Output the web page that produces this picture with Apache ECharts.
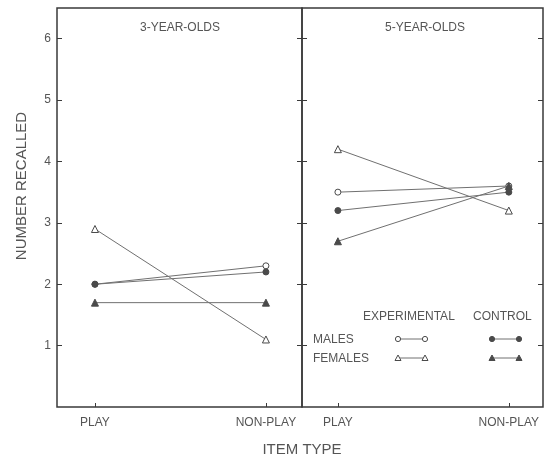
<!DOCTYPE html>
<html>
<head>
<meta charset="utf-8">
<script src="https://cdn.jsdelivr.net/npm/echarts@6/dist/echarts.min.js"></script>
<style>
  html, body { margin: 0; padding: 0; background: #fff; }
  #chart { width: 552px; height: 459px; }
</style>
</head>
<body>
<div id="chart"></div>
<script>
// 数据
const itemTypes = ['PLAY', 'NON-PLAY'];
const panelTitles = ['3-YEAR-OLDS', '5-YEAR-OLDS'];
const yTickValues = [1, 2, 3, 4, 5, 6];

// 3 岁组
const age3MalesExp = [2.0, 2.3];
const age3MalesCtl = [2.0, 2.2];
const age3FemalesExp = [2.9, 1.1];
const age3FemalesCtl = [1.7, 1.7];

// 5 岁组
const age5MalesExp = [3.5, 3.6];
const age5MalesCtl = [3.2, 3.5];
const age5FemalesExp = [4.2, 3.2];
const age5FemalesCtl = [2.7, 3.6];

const ink = '#3a3a3a';
const markColor = '#4a4a4a';
const textColor = '#555';
const lineColor = '#707070';
const font = 'Liberation Sans, Arial, sans-serif';

const chart = echarts.init(document.getElementById('chart'));

// open = 空心符号（实验组），否则实心（对照组）；实心画在上层
function makeSeries(name, values, shape, open, xIdx, yIdx) {
  return {
    name: name,
    type: 'line',
    xAxisIndex: xIdx,
    yAxisIndex: yIdx,
    data: values.map((v, i) => [i, v]),
    symbol: shape,
    symbolSize: shape === 'circle' ? 6 : 7,
    showAllSymbol: true,
    lineStyle: { color: lineColor, width: 1 },
    itemStyle: { color: open ? '#fff' : markColor, borderColor: markColor, borderWidth: 1 },
    emphasis: { disabled: true },
    silent: true,
    z: open ? 2 : 3
  };
}

function xAxisCfg(gridIndex, min, max) {
  return {
    type: 'value',
    gridIndex: gridIndex,
    min: min,
    max: max,
    axisLine: { show: false, onZero: false },
    splitLine: { show: false },
    axisTick: { show: true, inside: true, length: 4, customValues: [0, 1], lineStyle: { color: ink } },
    axisLabel: {
      customValues: [0, 1],
      formatter: v => itemTypes[Math.round(v)],
      color: textColor, fontSize: 12, fontFamily: font, margin: 10
    }
  };
}

function yAxisCfg(gridIndex, position, showLabel) {
  return {
    type: 'value',
    gridIndex: gridIndex,
    position: position,
    min: 0,
    max: 6.5,
    axisLine: { show: false, onZero: false },
    splitLine: { show: false },
    axisTick: { show: true, inside: true, length: 5, customValues: yTickValues, lineStyle: { color: ink } },
    axisLabel: {
      show: showLabel,
      customValues: yTickValues,
      color: textColor, fontSize: 12, fontFamily: font, margin: 6
    }
  };
}

// 图例小样（手绘）
function legendSample(x1, x2, y, kind) {
  const els = [{
    type: 'line',
    shape: { x1: x1, y1: y, x2: x2, y2: y },
    style: { stroke: lineColor, lineWidth: 1 }
  }];
  [x1, x2].forEach(x => {
    if (kind === 'openCircle' || kind === 'filledCircle') {
      els.push({
        type: 'circle',
        shape: { cx: x, cy: y, r: 2.6 },
        style: { fill: kind === 'openCircle' ? '#fff' : markColor, stroke: markColor, lineWidth: 1 }
      });
    } else {
      els.push({
        type: 'polygon',
        shape: { points: [[x, y - 3], [x - 3, y + 2.5], [x + 3, y + 2.5]] },
        style: { fill: kind === 'openTriangle' ? '#fff' : markColor, stroke: markColor, lineWidth: 1 }
      });
    }
  });
  return els;
}

function label(text, x, y, size, align, rotation) {
  return {
    type: 'text',
    x: x, y: y,
    rotation: rotation || 0,
    style: {
      text: text, fill: textColor, fontSize: size, fontFamily: font,
      align: align || 'center', verticalAlign: 'middle'
    }
  };
}

const option = {
  backgroundColor: '#fff',
  animation: false,
  grid: [
    { left: 57, right: 250, top: 8, bottom: 52, show: true, borderColor: ink, borderWidth: 1.5, backgroundColor: 'transparent' },
    { left: 302, right: 9, top: 8, bottom: 52, show: true, borderColor: ink, borderWidth: 1.5, backgroundColor: 'transparent' }
  ],
  xAxis: [
    xAxisCfg(0, -0.222, 1.211),
    xAxisCfg(1, -0.21, 1.2)
  ],
  yAxis: [
    yAxisCfg(0, 'left', true),
    yAxisCfg(0, 'right', false),
    yAxisCfg(1, 'left', false),
    yAxisCfg(1, 'right', false)
  ],
  series: [
    makeSeries('MALES EXPERIMENTAL', age3MalesExp, 'circle', true, 0, 0),
    makeSeries('MALES CONTROL', age3MalesCtl, 'circle', false, 0, 0),
    makeSeries('FEMALES EXPERIMENTAL', age3FemalesExp, 'triangle', true, 0, 0),
    makeSeries('FEMALES CONTROL', age3FemalesCtl, 'triangle', false, 0, 0),
    makeSeries('MALES EXPERIMENTAL', age5MalesExp, 'circle', true, 1, 2),
    makeSeries('MALES CONTROL', age5MalesCtl, 'circle', false, 1, 2),
    makeSeries('FEMALES EXPERIMENTAL', age5FemalesExp, 'triangle', true, 1, 2),
    makeSeries('FEMALES CONTROL', age5FemalesCtl, 'triangle', false, 1, 2)
  ],
  graphic: [
    label(panelTitles[0], 180, 28, 12),
    label(panelTitles[1], 425, 28, 12),
    label('NUMBER RECALLED', 22, 186, 15, 'center', Math.PI / 2),
    label('ITEM TYPE', 302, 450, 15),
    label('EXPERIMENTAL', 363, 317, 12, 'left'),
    label('CONTROL', 473, 317, 12, 'left'),
    label('MALES', 313, 340, 12, 'left'),
    label('FEMALES', 313, 359, 12, 'left')
  ]
    .concat(legendSample(398, 425, 339, 'openCircle'))
    .concat(legendSample(492, 519, 339, 'filledCircle'))
    .concat(legendSample(398, 425, 358, 'openTriangle'))
    .concat(legendSample(492, 519, 358, 'filledTriangle'))
};

chart.setOption(option);
</script>
</body>
</html>
